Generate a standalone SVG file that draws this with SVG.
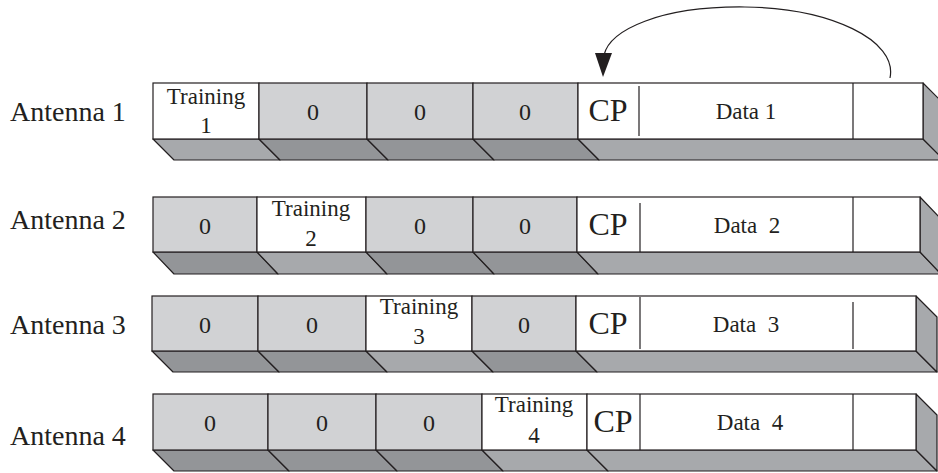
<svg xmlns="http://www.w3.org/2000/svg" width="938" height="473" viewBox="0 0 938 473">
<style>
.lbl{font-family:"Liberation Serif","Times New Roman",serif;font-size:28px;fill:#231f20}
.t{font-family:"Liberation Serif","Times New Roman",serif;font-size:23px;fill:#231f20;text-anchor:middle}
.z{font-family:"Liberation Serif","Times New Roman",serif;font-size:24px;fill:#231f20;text-anchor:middle}
.cp{font-family:"Liberation Serif","Times New Roman",serif;font-size:32px;fill:#231f20;text-anchor:middle}
.d{font-family:"Liberation Serif","Times New Roman",serif;font-size:23px;fill:#231f20;text-anchor:middle;white-space:pre}
.g{fill:#d1d2d4;stroke:#231f20;stroke-width:1.2}
.w{fill:#ffffff;stroke:#231f20;stroke-width:1.2}
.gb{fill:#939598;stroke:#231f20;stroke-width:1.2;stroke-linejoin:round}
.wb{fill:#a7a9ac;stroke:#231f20;stroke-width:1.2;stroke-linejoin:round}
.ln{stroke:#231f20;stroke-width:1.2;fill:none}
</style>

<g id="antenna1">
<text class="lbl" x="10" y="121">Antenna 1</text>
<polygon class="wb" points="153,139 259,139 280,160 174,160"/>
<polygon class="gb" points="259,139 367,139 388,160 280,160"/>
<polygon class="gb" points="367,139 473,139 494,160 388,160"/>
<polygon class="gb" points="473,139 578,139 599,160 494,160"/>
<polygon class="wb" points="578,139 923,139 944,160 599,160"/>
<polygon class="wb" points="923,83 944,104 944,160 923,139"/>
<rect class="w" x="153" y="83" width="106" height="56"/>
<rect class="g" x="259" y="83" width="108" height="56"/>
<rect class="g" x="367" y="83" width="106" height="56"/>
<rect class="g" x="473" y="83" width="105" height="56"/>
<rect class="w" x="578" y="83" width="345" height="56"/>
<line class="ln" x1="639" y1="86" x2="639" y2="136"/>
<line class="ln" x1="853" y1="83" x2="853" y2="139"/>
<text class="t" x="206" y="104">Training</text>
<text class="t" x="206" y="133">1</text>
<text class="z" x="313" y="120">0</text>
<text class="z" x="420" y="120">0</text>
<text class="z" x="525" y="120">0</text>
<text class="cp" x="608" y="121">CP</text>
<text class="d" x="746" y="119">Data 1</text>
</g>

<g id="antenna2">
<text class="lbl" x="10" y="229">Antenna 2</text>
<polygon class="gb" points="153,252 257,252 278,274 174,274"/>
<polygon class="wb" points="257,252 366,252 387,274 278,274"/>
<polygon class="gb" points="366,252 473,252 494,274 387,274"/>
<polygon class="gb" points="473,252 577,252 598,274 494,274"/>
<polygon class="wb" points="577,252 920,252 941,274 598,274"/>
<polygon class="wb" points="920,197 941,219 941,274 920,252"/>
<rect class="g" x="153" y="197" width="104" height="55"/>
<rect class="w" x="257" y="197" width="109" height="55"/>
<rect class="g" x="366" y="197" width="107" height="55"/>
<rect class="g" x="473" y="197" width="104" height="55"/>
<rect class="w" x="577" y="197" width="343" height="55"/>
<line class="ln" x1="640" y1="203" x2="640" y2="252"/>
<line class="ln" x1="853" y1="197" x2="853" y2="252"/>
<text class="z" x="205" y="234">0</text>
<text class="t" x="311" y="216">Training</text>
<text class="t" x="311" y="246">2</text>
<text class="z" x="420" y="234">0</text>
<text class="z" x="525" y="234">0</text>
<text class="cp" x="608" y="235">CP</text>
<text class="d" x="747" y="233">Data  2</text>
</g>

<g id="antenna3">
<text class="lbl" x="10" y="334">Antenna 3</text>
<polygon class="gb" points="152,351 258,351 279,372 173,372"/>
<polygon class="gb" points="258,351 366,351 387,372 279,372"/>
<polygon class="wb" points="366,351 472,351 493,372 387,372"/>
<polygon class="gb" points="472,351 576,351 597,372 493,372"/>
<polygon class="wb" points="576,351 916,351 937,372 597,372"/>
<polygon class="wb" points="916,296 937,317 937,372 916,351"/>
<rect class="g" x="152" y="296" width="106" height="55"/>
<rect class="g" x="258" y="296" width="108" height="55"/>
<rect class="w" x="366" y="296" width="106" height="55"/>
<rect class="g" x="472" y="296" width="104" height="55"/>
<rect class="w" x="576" y="296" width="340" height="55"/>
<line class="ln" x1="640" y1="297" x2="640" y2="349"/>
<line class="ln" x1="853" y1="302" x2="853" y2="349"/>
<text class="z" x="205" y="333">0</text>
<text class="z" x="312" y="333">0</text>
<text class="t" x="419" y="314">Training</text>
<text class="t" x="419" y="344">3</text>
<text class="z" x="524" y="333">0</text>
<text class="cp" x="608" y="334">CP</text>
<text class="d" x="746" y="332">Data  3</text>
</g>

<g id="antenna4">
<text class="lbl" x="10" y="445">Antenna 4</text>
<polygon class="gb" points="153,450 268,450 289,471 174,471"/>
<polygon class="gb" points="268,450 376,450 397,471 289,471"/>
<polygon class="gb" points="376,450 482,450 503,471 397,471"/>
<polygon class="wb" points="482,450 587,450 608,471 503,471"/>
<polygon class="wb" points="587,450 916,450 937,471 608,471"/>
<polygon class="wb" points="916,394 937,415 937,471 916,450"/>
<rect class="g" x="153" y="394" width="115" height="56"/>
<rect class="g" x="268" y="394" width="108" height="56"/>
<rect class="g" x="376" y="394" width="106" height="56"/>
<rect class="w" x="482" y="394" width="105" height="56"/>
<rect class="w" x="587" y="394" width="329" height="56"/>
<line class="ln" x1="640" y1="394" x2="640" y2="450"/>
<line class="ln" x1="853" y1="394" x2="853" y2="450"/>
<text class="z" x="210" y="431">0</text>
<text class="z" x="322" y="431">0</text>
<text class="z" x="429" y="431">0</text>
<text class="t" x="534" y="412">Training</text>
<text class="t" x="534" y="443">4</text>
<text class="cp" x="613" y="432">CP</text>
<text class="d" x="750" y="430">Data  4</text>
</g>

<g id="connectors">
<path class="ln" d="M 890 78 C 898 40, 830 8, 745 7 C 660 6, 610 30, 604 55" stroke-width="1.4"/>
<polygon points="595,53 612,53 603,77" fill="#231f20"/>
</g>
</svg>
